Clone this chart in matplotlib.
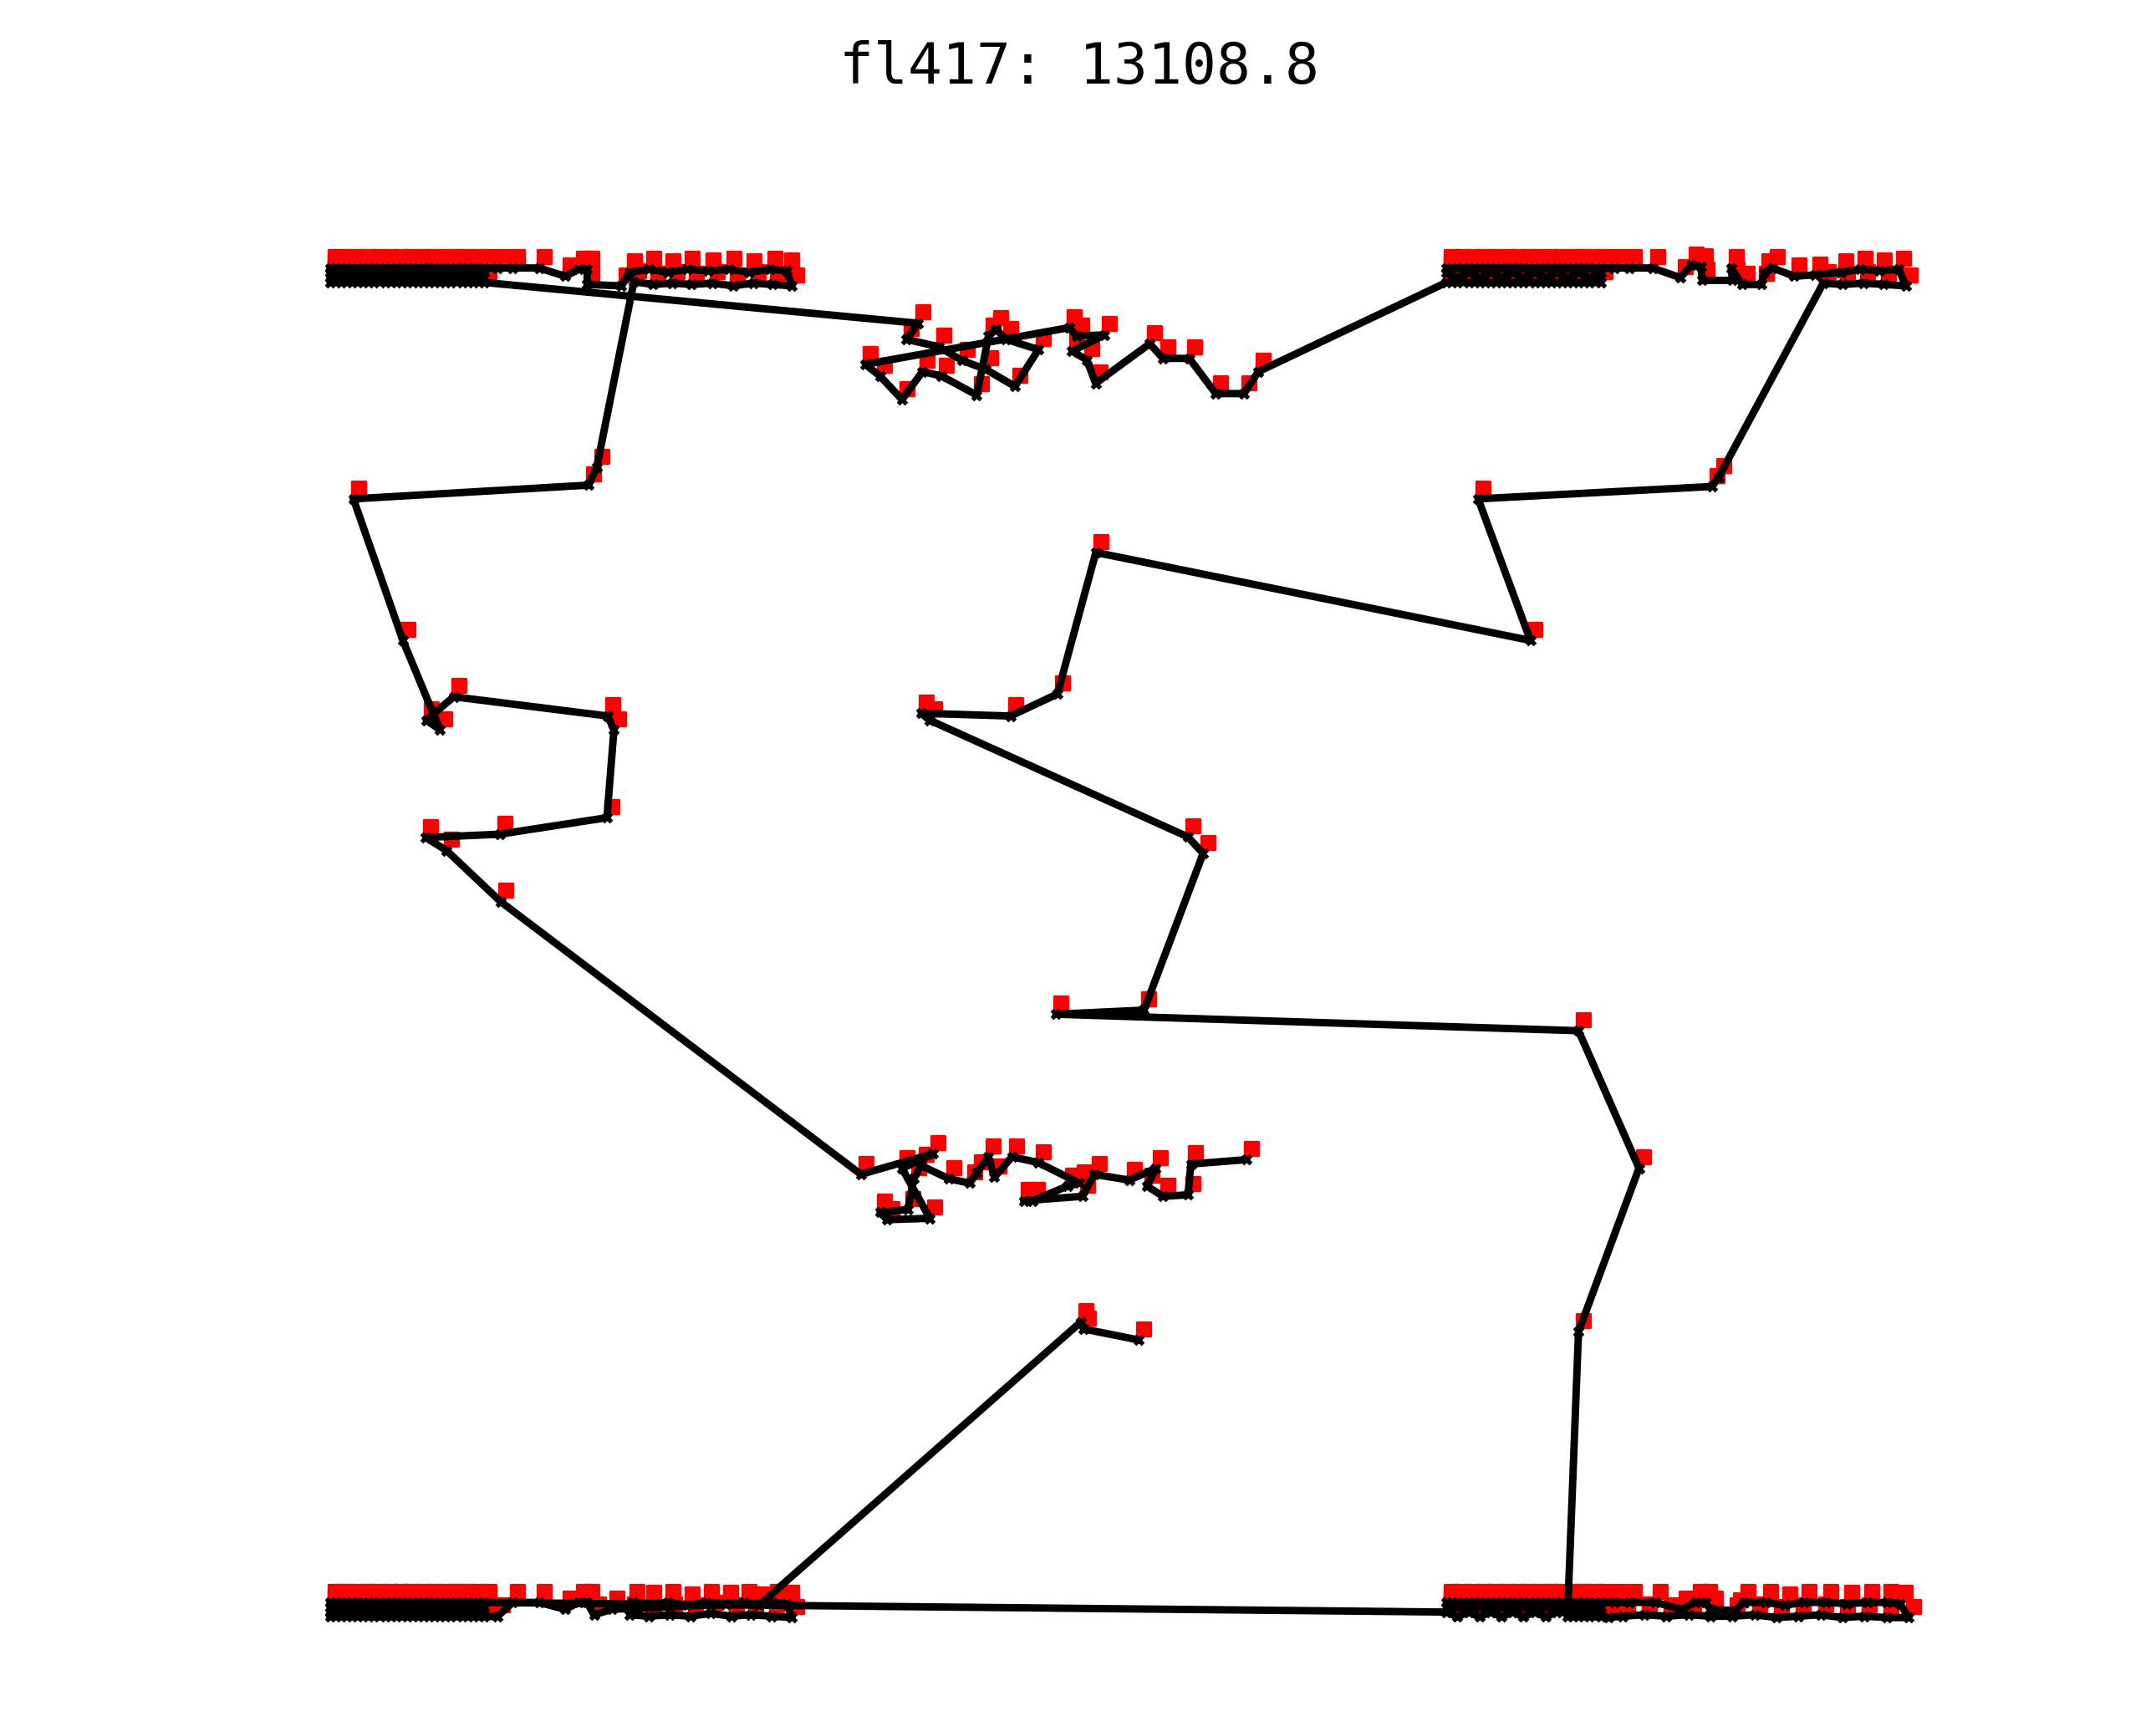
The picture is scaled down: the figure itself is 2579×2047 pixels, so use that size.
import matplotlib.pyplot as plt
from matplotlib.transforms import ScaledTranslation

# tour of fl417, city positions in picture units (x right, y down), in visiting order
start_seg = [(828, 975), (788, 967), (786, 962)]

bl_sparse = [(552, 1168), (541, 1166), (528, 1167), (514, 1166), (500, 1168), (486, 1166),
             (472, 1167), (460, 1166), (458, 1175), (472, 1176), (487, 1175), (502, 1176),
             (517, 1174), (532, 1176), (546, 1175), (561, 1176), (576, 1177), (572, 1167),
             (562, 1166), (445, 1171), (432, 1175), (427, 1166), (421, 1166), (411, 1171),
             (392, 1166), (373, 1166), (362, 1176)]

bl_comb = [(352, 1176.5), (344, 1176.5), (336, 1176.5), (328, 1176.5), (320, 1176.5), (312, 1176.5),
           (304, 1176.5), (296, 1176.5), (288, 1176.5), (280, 1176.5), (272, 1176.5), (264, 1176.5),
           (256, 1176.5), (248, 1176.5), (240, 1176.5),
           (240, 1173), (248, 1173), (256, 1173), (264, 1173), (272, 1173), (280, 1173), (288, 1173),
           (296, 1173), (304, 1173), (312, 1173), (320, 1173), (328, 1173), (336, 1173), (344, 1173),
           (352, 1173),
           (352, 1169.5), (344, 1169.5), (336, 1169.5), (328, 1169.5), (320, 1169.5), (312, 1169.5),
           (304, 1169.5), (296, 1169.5), (288, 1169.5), (280, 1169.5), (272, 1169.5), (264, 1169.5),
           (256, 1169.5), (248, 1169.5), (240, 1169.5),
           (240, 1166), (248, 1166), (256, 1166), (264, 1166), (272, 1166), (280, 1166), (288, 1166),
           (296, 1166), (304, 1166), (312, 1166), (320, 1166), (328, 1166), (336, 1166), (344, 1166),
           (352, 1166)]

br_comb = [(1052, 1173), (1060, 1176.5), (1068, 1173), (1076, 1176.5), (1084, 1173), (1092, 1176.5),
           (1100, 1173), (1108, 1176.5), (1116, 1173), (1124, 1176.5), (1132, 1173), (1140, 1173),
           (1148, 1173), (1156, 1173), (1164, 1173),
           (1164, 1169.5), (1156, 1169.5), (1148, 1169.5), (1140, 1169.5), (1132, 1169.5), (1124, 1169.5),
           (1116, 1169.5), (1108, 1169.5), (1100, 1169.5), (1092, 1169.5), (1084, 1169.5), (1076, 1169.5),
           (1068, 1169.5), (1060, 1169.5), (1052, 1169.5),
           (1052, 1166), (1060, 1166), (1068, 1166), (1076, 1166), (1084, 1166), (1092, 1166),
           (1100, 1166), (1108, 1166), (1116, 1166), (1124, 1166), (1132, 1166), (1140, 1166),
           (1148, 1166), (1156, 1166), (1164, 1166)]

br_sparse = [(1174, 1166), (1185, 1166), (1204, 1166), (1223, 1171), (1233, 1166), (1240, 1166),
             (1244, 1171), (1262, 1172), (1268, 1166), (1284, 1166), (1298, 1168), (1312, 1166),
             (1328, 1166), (1343, 1167), (1358, 1166), (1372, 1166), (1382, 1167), (1388, 1177),
             (1372, 1177), (1356, 1176), (1340, 1177), (1324, 1175), (1308, 1176), (1292, 1177),
             (1276, 1175), (1260, 1176), (1244, 1176), (1228, 1175), (1212, 1176), (1196, 1175),
             (1180, 1176), (1170, 1177),
             (1164, 1176.5), (1156, 1176.5), (1148, 1176.5), (1140, 1176.5)]

right_side = [(1148, 969), (1192, 850), (1148, 750), (768, 738), (832, 735), (875, 621),
              (864, 609), (676, 524), (670, 519), (735, 521), (769, 505), (797, 402),
              (1113, 466), (1075, 363), (1245, 354), (1250, 347), (1326, 206)]

tr_sparse = [(1340, 207), (1355, 206), (1370, 207), (1386, 208), (1381, 196), (1367, 197),
             (1353, 196), (1339, 198), (1320, 200), (1305, 201), (1289, 195), (1283, 198),
             (1281, 207), (1267, 207), (1259, 195), (1260, 204), (1238, 204), (1237, 194),
             (1230, 193), (1222, 202), (1202, 195), (1185, 195), (1174, 195)]

tr_comb = [(1164, 195), (1156, 195), (1148, 195), (1140, 195), (1132, 195), (1124, 195),
           (1116, 195), (1108, 195), (1100, 195), (1092, 195), (1084, 195), (1076, 195),
           (1068, 195), (1060, 195), (1052, 195),
           (1052, 198.5), (1060, 202), (1068, 198.5), (1076, 202), (1084, 198.5), (1092, 202),
           (1100, 198.5), (1108, 202), (1116, 198.5), (1124, 202), (1132, 198.5), (1140, 202),
           (1148, 198.5), (1156, 202), (1164, 198.5),
           (1164, 205.5), (1156, 205.5), (1148, 205.5), (1140, 205.5), (1132, 205.5), (1124, 205.5),
           (1116, 205.5), (1108, 205.5), (1100, 205.5), (1092, 205.5), (1084, 205.5), (1076, 205.5),
           (1068, 205.5), (1060, 205.5), (1052, 205.5)]

mid_top = [(915.2, 270.4), (904.5, 286.4), (884.2, 286.4), (865.0, 260.8), (845.8, 260.8),
           (836.2, 250.1), (796.8, 278.9), (790.4, 261.9), (779.7, 255.5), (803.2, 243.7),
           (782.9, 244.4), (777.6, 238.4), (629.3, 265.1), (640.0, 273.6), (656.0, 290.7),
           (670.9, 270.4), (684.8, 273.6), (710.4, 287.5), (718.9, 244.8), (724.3, 239.5),
           (731.7, 246.9), (755.2, 254.4), (738.1, 281.1), (716.8, 268.7), (699.7, 262.3),
           (682.7, 252.3), (659.2, 246.9), (667.7, 235.2)]

tl_comb = [(352, 205.5), (344, 205.5), (336, 205.5), (328, 205.5), (320, 205.5), (312, 205.5),
           (304, 205.5), (296, 205.5), (288, 205.5), (280, 205.5), (272, 205.5), (264, 205.5),
           (256, 205.5), (248, 205.5), (240, 205.5),
           (240, 202), (248, 202), (256, 202), (264, 202), (272, 202), (280, 202), (288, 202),
           (296, 202), (304, 202), (312, 202), (320, 202), (328, 202), (336, 202), (344, 202),
           (352, 202),
           (352, 198.5), (344, 198.5), (336, 198.5), (328, 198.5), (320, 198.5), (312, 198.5),
           (304, 198.5), (296, 198.5), (288, 198.5), (280, 198.5), (272, 198.5), (264, 198.5),
           (256, 198.5), (248, 198.5), (240, 198.5),
           (240, 195), (248, 195), (256, 195), (264, 195), (272, 195), (280, 195), (288, 195),
           (296, 195), (304, 195), (312, 195), (320, 195), (328, 195), (336, 195), (344, 195),
           (352, 195)]

tl_sparse = [(362, 195), (373, 195), (392, 195), (411, 201), (421, 196), (427, 196), (427, 207),
             (452, 208), (458, 198), (472, 196), (486, 198), (500, 196), (515, 197), (530, 196),
             (545, 198), (560, 196), (572, 197), (576, 208), (562, 207), (548, 206), (533, 208),
             (518, 206), (503, 207), (489, 206), (475, 207), (461, 205)]

left_side = [(434, 340), (428, 353), (257, 363), (293, 466), (320, 531), (310, 524), (330, 507),
             (442, 521), (446.5, 531), (441.4, 595), (363.4, 607), (309.7, 609.4), (324.9, 619),
             (364, 656)]

mid_bottom = [(626.1, 854.5), (678.4, 839.5), (656.0, 850.2), (676.3, 886.5), (645.3, 887.5),
              (640.0, 882.2), (660.3, 880.1), (664.5, 857.7), (669.9, 848.1), (690.1, 857.7),
              (705.1, 860.9), (710.4, 853.4), (718.9, 841.7), (723.2, 856.6), (736.0, 841.7),
              (755.2, 846.0), (785.0, 860.9), (776.5, 863.0), (750.9, 873.7), (744.5, 873.7),
              (787.2, 870.5), (795.7, 854.5), (821.3, 858.7), (840.5, 850.2), (834.1, 863.0),
              (845.8, 870.5), (864.0, 869.4), (866.1, 847.0), (906.6, 843.8)]

title = 'fl417: 13108.8'

tour = (start_seg + bl_sparse + bl_comb + br_comb + br_sparse + right_side + tr_sparse
        + tr_comb + mid_top + tl_comb + tl_sparse + left_side + mid_bottom)
x = [p[0] for p in tour]
y = [p[1] for p in tour]

fig = plt.figure(figsize=(12.895, 10.235), dpi=200)
ax = fig.add_axes([0, 0, 1, 1])
ax.set_xlim(0, 1568)
ax.set_ylim(1245, 0)
ax.axis('off')

# cities drawn as red squares, nudged up-right of the tour vertices
shift = ax.transData + ScaledTranslation(2.1 / 72, 4.8 / 72, fig.dpi_scale_trans)
ax.scatter(x, y, marker='s', s=33, c='red', edgecolors='red', linewidths=1.2,
           transform=shift, zorder=1)
ax.plot(x, y, '-', color='black', lw=3.2, marker='x', ms=3.6, mew=1.9, zorder=2)

fig.text(0.5006, 1 - 49 / 1245, title, ha='center', va='center',
         fontsize=24.5, family='DejaVu Sans Mono')

fig.savefig('out.png', dpi=200)
